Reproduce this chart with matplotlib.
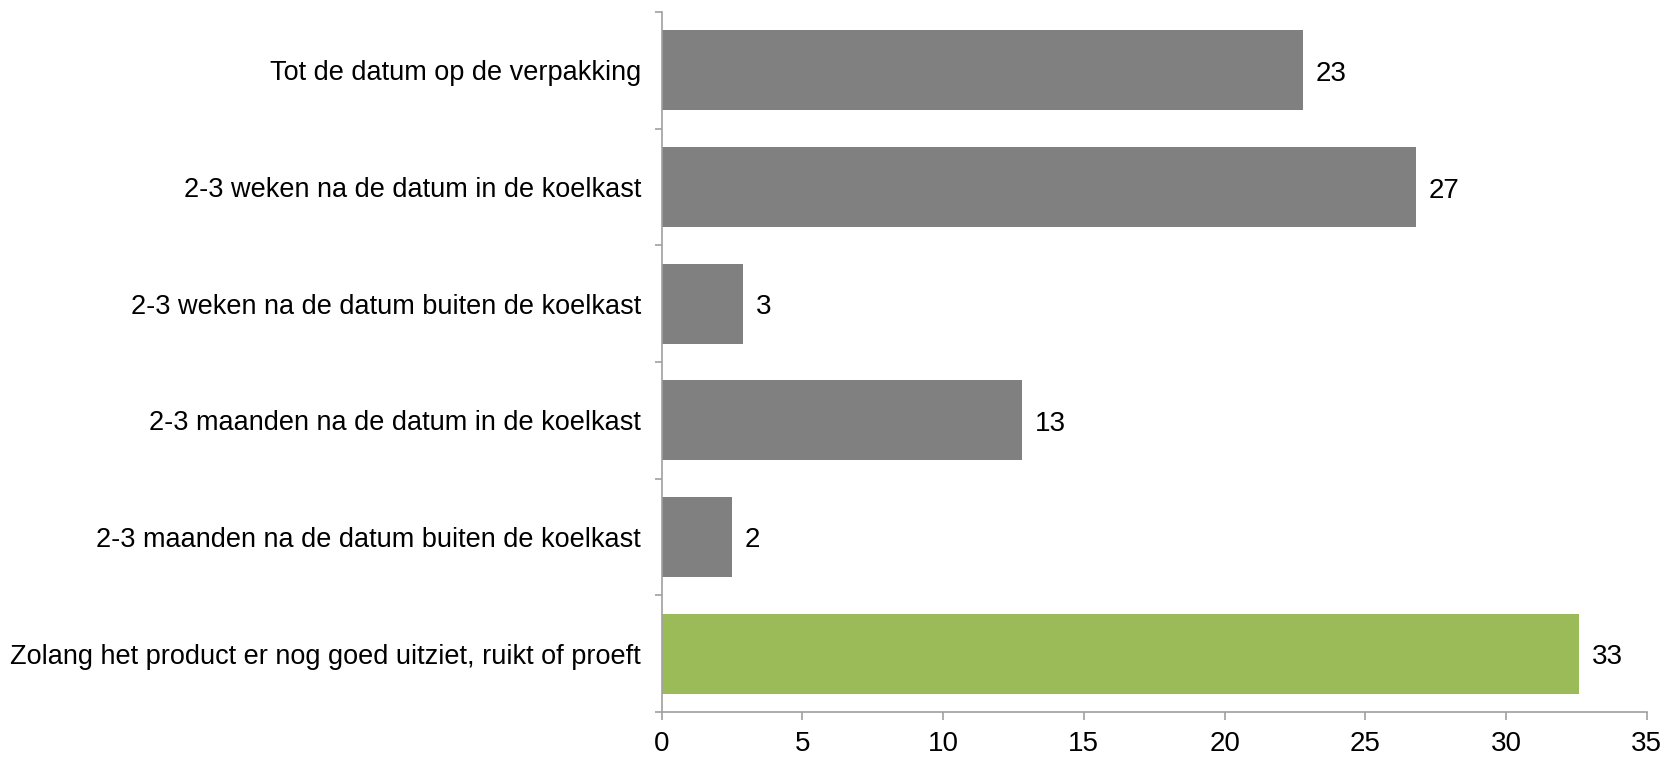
import matplotlib.pyplot as plt
import numpy as np

plt.rcParams['font.family'] = ['Liberation Sans', 'DejaVu Sans']

categories = [
    "Tot de datum op de verpakking",
    "2-3 weken na de datum in de koelkast",
    "2-3 weken na de datum buiten de koelkast",
    "2-3 maanden na de datum in de koelkast",
    "2-3 maanden na de datum buiten de koelkast",
    "Zolang het product er nog goed uitziet, ruikt of proeft",
]
values = [22.8, 26.8, 2.9, 12.8, 2.5, 32.6]
colors = ["#808080"] * 5 + ["#9BBB59"]

fig = plt.figure(figsize=(16.61, 7.6), dpi=100)
ax = fig.add_axes([0.3984, 0.0632, 0.593, 0.9208])

y = np.arange(len(categories))[::-1]
ax.barh(y, values, height=0.686, color=colors)

for yi, v in zip(y, values):
    ax.annotate(f"{v:.0f}", (v, yi), xytext=(9, -2.5), textcoords="offset points",
                va="center", ha="left", fontsize=20)

ax.set_xlim(0, 35)
ax.set_ylim(-0.5, len(categories) - 0.5)
ax.set_xticks(range(0, 36, 5))
ax.set_yticks(y)
ax.set_yticklabels(categories)
ax.set_yticks(np.arange(-0.5, len(categories)), minor=True)

axis_col = "#a0a0a0"
for s in ["top", "right"]:
    ax.spines[s].set_visible(False)
for s in ["left", "bottom"]:
    ax.spines[s].set_color(axis_col)
    ax.spines[s].set_linewidth(1.2)

ax.tick_params(axis="y", which="major", length=0, pad=15, labelsize=19.5)
ax.tick_params(axis="y", which="minor", length=5, color=axis_col, width=1.2)
ax.tick_params(axis="x", length=6, color=axis_col, width=1.2, pad=8, labelsize=20)

fig.savefig("out.png", dpi=100)
